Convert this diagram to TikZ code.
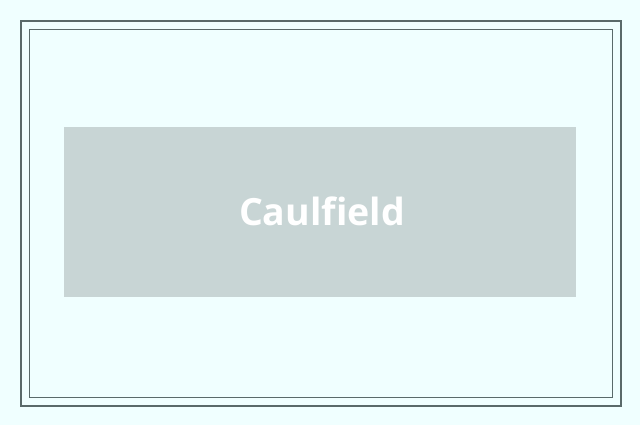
\documentclass[tikz,border=0pt]{standalone}
\usepackage{fontspec}
\setmainfont[Ligatures=NoCommon]{Open Sans}
\usepackage{xcolor}
\usepackage{tikz}
\usetikzlibrary{backgrounds,calc,positioning,fit}

\definecolor{pagebg}{HTML}{F0FFFF}
\definecolor{frameline}{HTML}{5A6A6A}
\definecolor{plate}{HTML}{C8D5D5}

\begin{document}
\begin{tikzpicture}[x=1pt,y=-1pt]
            \path[use as bounding box, fill=pagebg] (0,0) rectangle (640,425);
            \draw[frameline, line width=2pt] (21,21) rectangle (621,406);
            \draw[frameline, line width=1pt] (29.5,29.5) rectangle (612,397);

            \fill[plate] (64,127) rectangle (576,296.5);
            \node[text=white, font=\fontsize{37.5}{44}\selectfont\bfseries] (name) at (322,211.5) {Caulfield};
        \end{tikzpicture}
\end{document}
